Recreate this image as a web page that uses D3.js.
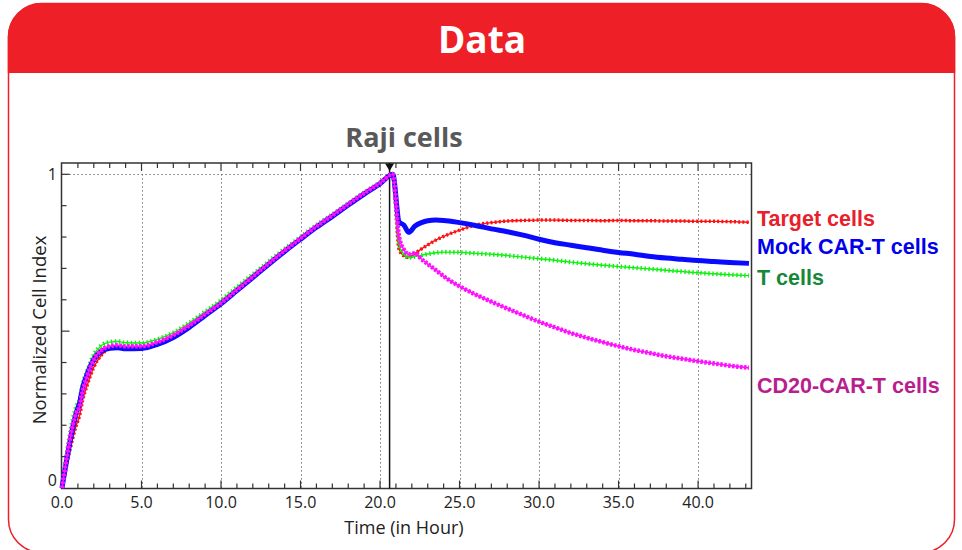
<!DOCTYPE html>
<html>
<head>
<meta charset="utf-8">
<script src="https://cdn.jsdelivr.net/npm/d3@7"></script>
<style>
	body { margin: 0; background: #fff; }
	svg { display: block; }
</style>
</head>
<body>
<div id="chart"></div>
<script>
// time points (hours) shared by all four curves
var hours = [0, 0.9, 1.1, 1.3, 1.6, 2, 2.5, 3, 3.5, 4,
	5, 6, 7, 8, 9, 10, 11, 12, 13, 14, 15, 16, 17, 18, 19, 20, 20.8,
	21.2, 21.5, 21.8, 22.2, 22.6, 23, 23.5, 24,
	25, 26, 27, 28, 29, 30, 31, 32, 33, 34, 35, 36, 37, 38, 39, 40, 41, 42, 43.2];

var targetCells = [0, 0.2, 0.23, 0.28, 0.33, 0.385, 0.425, 0.445, 0.45, 0.45,
	0.45, 0.462, 0.485, 0.516, 0.552, 0.589, 0.631, 0.673, 0.715, 0.756, 0.795, 0.833, 0.868, 0.904, 0.939, 0.972, 1.0,
	0.76, 0.74, 0.735, 0.748, 0.762, 0.775, 0.79, 0.802,
	0.822, 0.838, 0.846, 0.851, 0.853, 0.854, 0.854, 0.853, 0.853, 0.852, 0.853, 0.852, 0.852, 0.851, 0.851, 0.85, 0.85, 0.849, 0.847];

var mockCarT = [0, 0.24, 0.27, 0.32, 0.365, 0.41, 0.437, 0.445, 0.447, 0.444,
	0.445, 0.458, 0.48, 0.512, 0.55, 0.587, 0.629, 0.671, 0.713, 0.754, 0.793, 0.831, 0.866, 0.902, 0.937, 0.97, 1.0,
	0.848, 0.838, 0.815, 0.835, 0.846, 0.852, 0.854, 0.853,
	0.846, 0.837, 0.826, 0.817, 0.806, 0.793, 0.782, 0.774, 0.766, 0.758, 0.751, 0.745, 0.738, 0.733, 0.729, 0.725, 0.722, 0.719, 0.716];

var tCells = [0, 0.26, 0.28, 0.33, 0.375, 0.425, 0.455, 0.465, 0.467, 0.463,
	0.462, 0.474, 0.495, 0.526, 0.562, 0.598, 0.64, 0.681, 0.722, 0.762, 0.8, 0.838, 0.872, 0.907, 0.942, 0.974, 1.0,
	0.775, 0.745, 0.735, 0.738, 0.742, 0.746, 0.75, 0.752,
	0.751, 0.748, 0.745, 0.741, 0.736, 0.731, 0.726, 0.72, 0.715, 0.71, 0.706, 0.702, 0.698, 0.694, 0.69, 0.686, 0.683, 0.68, 0.677];

var cd20CarT = [0, 0.24, 0.26, 0.31, 0.36, 0.41, 0.44, 0.452, 0.455, 0.452,
	0.452, 0.465, 0.487, 0.518, 0.554, 0.59, 0.632, 0.674, 0.716, 0.757, 0.796, 0.834, 0.869, 0.905, 0.94, 0.972, 1.0,
	0.8, 0.76, 0.745, 0.748, 0.73, 0.714, 0.695, 0.675,
	0.643, 0.617, 0.594, 0.572, 0.551, 0.53, 0.512, 0.494, 0.479, 0.465, 0.452, 0.44, 0.43, 0.42, 0.412, 0.404, 0.397, 0.39, 0.383];

var seriesNames = ["Target cells", "Mock CAR-T cells", "T cells", "CD20-CAR-T cells"];
var xTickLabels = [0, 5, 10, 15, 20, 25, 30, 35, 40];
var yTickLabels = [0, 1];
var addTime = 20.6;  // Raji cells added

var width = 962, height = 550;
var svg = d3.select("#chart").append("svg")
	.attr("width", width)
	.attr("height", height);

// card + header
svg.append("rect")
	.attr("x", 8.5).attr("y", 3.5)
	.attr("width", 946).attr("height", 549)
	.attr("rx", 33)
	.attr("fill", "#fff")
	.attr("stroke", "#ee1f26")
	.attr("stroke-width", 1.5);
svg.append("path")
	.attr("d", "M7.8,73 V38 A34,34 0 0 1 41.8,3 H921.2 A34,34 0 0 1 955.2,38 V73 Z")
	.attr("fill", "#ee1f26");
svg.append("text")
	.attr("x", 482).attr("y", 53)
	.attr("text-anchor", "middle")
	.attr("font-family", "Open Sans")
	.attr("font-weight", "bold")
	.attr("font-size", 37)
	.attr("fill", "#fff")
	.text("Data");

var plotLeft = 61.5, plotRight = 751.5, plotTop = 163, plotBottom = 488.5;

var xScale = d3.scaleLinear()
	.domain([0, 43.36])
	.range([62, plotRight]);
var yScale = d3.scaleLinear()
	.domain([0, 1.036])
	.range([488, plotTop]);

var g = svg.append("g");

// dotted grid
g.selectAll("line.vgrid")
	.data(xTickLabels.filter(function(d) { return d > 0; }))
	.enter().append("line")
	.attr("class", "vgrid")
	.attr("x1", function(d) { return Math.round(xScale(d)) + 0.5; })
	.attr("x2", function(d) { return Math.round(xScale(d)) + 0.5; })
	.attr("y1", yScale(1))
	.attr("y2", plotBottom)
	.attr("stroke", "#555")
	.attr("stroke-width", 1)
	.attr("stroke-dasharray", "1.2,2.8");
g.append("line")
	.attr("x1", plotLeft).attr("x2", plotRight)
	.attr("y1", Math.round(yScale(1)) + 0.5)
	.attr("y2", Math.round(yScale(1)) + 0.5)
	.attr("stroke", "#555")
	.attr("stroke-dasharray", "1.2,2.8");

// frame
g.append("rect")
	.attr("x", plotLeft).attr("y", plotTop)
	.attr("width", plotRight - plotLeft).attr("height", plotBottom - plotTop)
	.attr("fill", "none")
	.attr("stroke", "#333")
	.attr("stroke-width", 1.5);

// ticks on the inner sides
var xMinor = d3.range(1, 44);
g.selectAll("line.xb")
	.data(xMinor)
	.enter().append("line")
	.attr("x1", function(d) { return xScale(d); })
	.attr("x2", function(d) { return xScale(d); })
	.attr("y1", plotBottom)
	.attr("y2", function(d) { return plotBottom - (d % 5 == 0 ? 8 : 5); })
	.attr("stroke", "#333")
	.attr("stroke-width", 1.2);
g.selectAll("line.xt")
	.data(xMinor)
	.enter().append("line")
	.attr("x1", function(d) { return xScale(d); })
	.attr("x2", function(d) { return xScale(d); })
	.attr("y1", plotTop)
	.attr("y2", function(d) { return plotTop + (d % 5 == 0 ? 8 : 5); })
	.attr("stroke", "#333")
	.attr("stroke-width", 1.2);
var yMinor = d3.range(1, 11).map(function(d) { return d / 10; });
g.selectAll("line.yl")
	.data(yMinor)
	.enter().append("line")
	.attr("x1", plotLeft)
	.attr("x2", function(d) { return plotLeft + (Math.abs(d * 10 % 5) < 0.01 ? 8 : 5); })
	.attr("y1", function(d) { return yScale(d); })
	.attr("y2", function(d) { return yScale(d); })
	.attr("stroke", "#333")
	.attr("stroke-width", 1.2);

// tick labels
g.selectAll("text.xl")
	.data(xTickLabels)
	.enter().append("text")
	.attr("x", function(d) { return xScale(d); })
	.attr("y", 508)
	.attr("text-anchor", "middle")
	.attr("font-family", "Open Sans")
	.attr("font-size", 16)
	.attr("fill", "#222")
	.text(function(d) { return d3.format(".1f")(d); });
g.selectAll("text.yl")
	.data(yTickLabels)
	.enter().append("text")
	.attr("x", 57)
	.attr("y", function(d) { return yScale(d) + (d == 0 ? -2 : 6); })
	.attr("text-anchor", "end")
	.attr("font-family", "Open Sans")
	.attr("font-size", 16)
	.attr("fill", "#222")
	.text(function(d) { return d; });

// axis titles
svg.append("text")
	.attr("x", 404).attr("y", 534)
	.attr("text-anchor", "middle")
	.attr("font-family", "Open Sans")
	.attr("font-size", 18)
	.attr("fill", "#222")
	.text("Time (in Hour)");
svg.append("text")
	.attr("transform", "translate(46,330) rotate(-90)")
	.attr("text-anchor", "middle")
	.attr("font-family", "Open Sans")
	.attr("font-size", 18.5)
	.attr("fill", "#222")
	.text("Normalized Cell Index");

// addition marker
var ax = xScale(addTime);
g.append("line")
	.attr("x1", ax).attr("x2", ax)
	.attr("y1", plotTop).attr("y2", plotBottom)
	.attr("stroke", "#111")
	.attr("stroke-width", 1.5);
g.append("path")
	.attr("d", "M" + (ax - 4.5) + "," + (plotTop + 0.5) + " L" + (ax + 4.5) + "," + (plotTop + 0.5) + " L" + ax + "," + (plotTop + 8) + " Z")
	.attr("fill", "#111");
svg.append("text")
	.attr("x", 404).attr("y", 147)
	.attr("text-anchor", "middle")
	.attr("font-family", "Open Sans")
	.attr("font-weight", "bold")
	.attr("font-size", 27)
	.attr("fill", "#595959")
	.text("Raji cells");

// curves
var line = d3.line()
	.x(function(d) { return xScale(d[0]); })
	.y(function(d) { return yScale(d[1]); })
	.curve(d3.curveMonotoneX);

function pairs(values) {
	return hours.map(function(h, i) { return [h, values[i]]; });
}

var curves = [
	{values: targetCells, color: "#ff1010", width: 1.4, dashW: 3.5, dash: "2,2.2"},
	{values: tCells, color: "#10f010", width: 1.4, dashW: 4.5, dash: "1.4,2.6"},
	{values: mockCarT, color: "#0a0aff", width: 5, dashW: 0, dash: null},
	{values: cd20CarT, color: "#ff10ff", width: 1.6, dashW: 4.5, dash: "2.5,1.5"}
];

curves.forEach(function(c) {
	var data = pairs(c.values);
	g.append("path")
		.datum(data)
		.attr("d", line)
		.attr("fill", "none")
		.attr("stroke", c.color)
		.attr("stroke-width", c.width)
		.attr("stroke-linejoin", "round");
	if (c.dash) {
		g.append("path")
			.datum(data)
			.attr("d", line)
			.attr("fill", "none")
			.attr("stroke", c.color)
			.attr("stroke-width", c.dashW)
			.attr("stroke-dasharray", c.dash);
	}
});

// legend labels at the right end of each curve
var legendColors = ["#e8202a", "#0000ee", "#17873a", "#b81e8e"];
var legendY = [226, 254, 285, 393];
svg.selectAll("text.legend")
	.data(seriesNames)
	.enter().append("text")
	.attr("x", 757)
	.attr("y", function(d, i) { return legendY[i]; })
	.attr("font-family", "Liberation Sans")
	.attr("font-weight", "bold")
	.attr("font-size", 21.5)
	.attr("fill", function(d, i) { return legendColors[i]; })
	.text(function(d) { return d; });
</script>
</body>
</html>
